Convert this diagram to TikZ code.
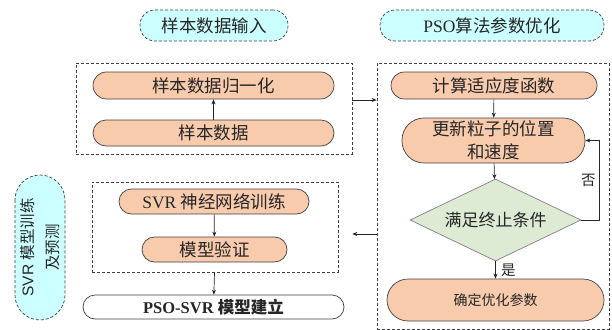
\documentclass[tikz,border=0pt]{standalone}
\usepackage{fontspec}
\setmainfont{Liberation Serif}
\newfontfamily\cjk{Noto Sans CJK SC}
\newfontfamily\lsans{Liberation Sans}
\usetikzlibrary{shapes.geometric,arrows.meta,calc}
\definecolor{orfill}{HTML}{F8CBAD}
\definecolor{cyfill}{HTML}{CCFFFF}
\definecolor{grfill}{HTML}{DDEBD5}
\definecolor{edge}{HTML}{404040}
\definecolor{txt}{HTML}{262626}
\tikzset{
  every node/.style={text=txt},
  titlebox/.style={draw=edge, dashed, dash pattern=on 3pt off 2pt, fill=cyfill, rounded corners=15pt, line width=0.7pt, font=\fontsize{17.5}{20}\selectfont, inner sep=0pt},
  groupbox/.style={draw=edge, dash pattern=on 3pt off 2pt, line width=0.7pt, inner sep=0pt},
  procbox/.style={draw=edge, fill=orfill, line width=0.7pt, inner sep=0pt, font=\fontsize{17.5}{22.5}\selectfont, align=center},
  decbox/.style={draw=gray, fill=grfill, diamond, line width=0.7pt, inner sep=0pt, aspect=2.08, font=\fontsize{17}{20}\selectfont},
  arr/.style={-{Stealth[length=5pt,width=4pt]}, line width=0.7pt, draw=txt},
}
\begin{document}
\begin{tikzpicture}[x=1pt,y=-1pt]
\useasboundingbox (0,0) rectangle (612,329);
% titles
\node[titlebox, minimum width=148pt, minimum height=31pt] (t1) at (214,25.5) {\cjk 样本数据输入};
\node[titlebox, minimum width=224pt, minimum height=31pt] (t2) at (492,25.5) {PSO{\cjk 算法参数优化}};
\node[titlebox, rounded corners=25pt, rotate=90, minimum width=145pt, minimum height=50pt, align=center, font=\fontsize{15.5}{25}\selectfont] (v) at (40,247.5) {\lsans SVR {\cjk 模型训练}\\{\cjk 及预测}};
% group boxes
\node[groupbox, minimum width=276pt, minimum height=91pt] (b1) at (214,108.5) {};
\node[groupbox, minimum width=232pt, minimum height=266pt] (b2) at (493,196) {};
\node[groupbox, minimum width=246pt, minimum height=90pt] (b3) at (215,227) {};
% left column
\node[procbox, rounded corners=13.5pt, minimum width=241pt, minimum height=27pt] (n1) at (213.5,85.5) {\cjk 样本数据归一化};
\node[procbox, rounded corners=13pt, minimum width=241pt, minimum height=26pt] (n2) at (213.5,133) {\cjk 样本数据};
\node[procbox, rounded corners=12.5pt, minimum width=190pt, minimum height=25pt] (s1) at (214,201.5) {SVR {\cjk 神经网络训练}};
\node[procbox, rounded corners=12.5pt, minimum width=145pt, minimum height=25pt] (s2) at (214.5,249.5) {\cjk 模型验证};
\node[procbox, fill=white, rounded corners=12pt, minimum width=261pt, minimum height=24pt, font=\fontsize{16.5}{20}\selectfont\bfseries] (f) at (213.5,307) {PSO-SVR {\cjk\bfseries 模型建立}};
% right column
\node[procbox, rounded corners=13.5pt, minimum width=206pt, minimum height=27pt] (c1) at (494,85.5) {\cjk 计算适应度函数};
\node[procbox, rounded corners=22pt, minimum width=183pt, minimum height=45pt] (c2) at (493.5,140.5) {\cjk 更新粒子的位置\\ \cjk 和速度};
\node[decbox, minimum width=171pt, minimum height=82pt] (d) at (495.5,220) {\cjk 满足终止条件};
\node[procbox, rounded corners=21pt, minimum width=217pt, minimum height=42pt, font=\fontsize{14}{16}\selectfont] (c3) at (495.5,300) {\cjk 确定优化参数};
% arrows
\draw[arr] (n2) -- (n1);
\draw[arr] (b1.east |- 0,100) -- (b2.west |- 0,100);
\draw[arr] (c1) -- (c2);
\draw[arr] (c2) -- (d);
\draw[arr] (d) -- node[right, font=\fontsize{14.5}{16}\selectfont, xshift=2pt] {\cjk 是} (c3);
\draw[arr] (d.east) -- ++(18,0) |- node[pos=0.25, left, font=\fontsize{14.5}{16}\selectfont, xshift=0pt] {\cjk 否} (c2.east);
\draw[arr, shorten >=14pt] (b2.west |- 0,234) -- (b3.east |- 0,234);
\draw[arr] (s1) -- (s2);
\draw[arr] (b3.south -| s2.south) -- (f);
\end{tikzpicture}
\end{document}
